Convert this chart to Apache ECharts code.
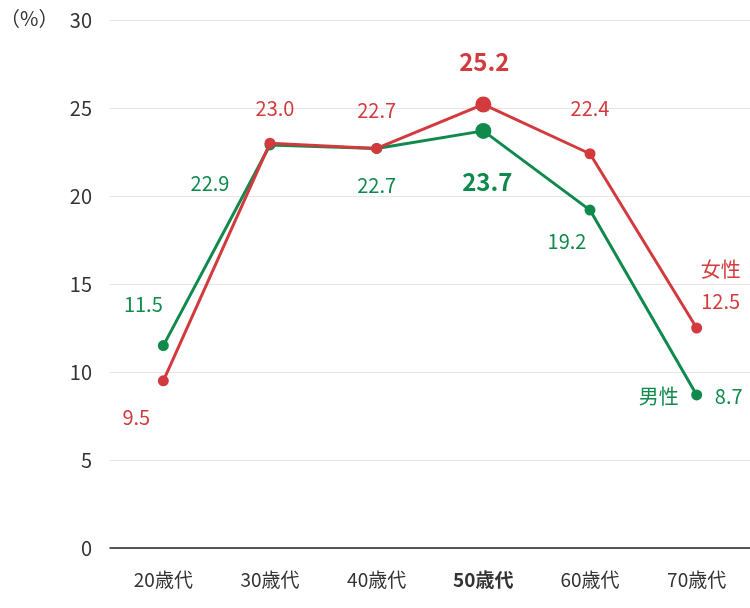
<!DOCTYPE html>
<html>
<head>
<meta charset="utf-8">
<script src="https://cdn.jsdelivr.net/npm/echarts@6/dist/echarts.min.js"></script>
<style>html,body{margin:0;padding:0;background:#fff}#chart{width:750px;height:608px}</style>
</head>
<body>
<div id="chart"></div>
<script>
var categories = ['20歳代', '30歳代', '40歳代', '50歳代', '60歳代', '70歳代'];
var male = [11.5, 22.9, 22.7, 23.7, 19.2, 8.7];
var female = [9.5, 23.0, 22.7, 25.2, 22.4, 12.5];
var yTicks = [0, 5, 10, 15, 20, 25, 30];

var RED = '#d33a3e', GREEN = '#0f8a4c';
var font = '"Noto Sans CJK JP", "Noto Sans", sans-serif';

// label offsets around each point
var femaleOff = [[-27, 37], [5, -35], [0, -38], [1, -43], [0, -45], [24, -43]];
var maleOff = [[-20, -41], [-60, 38], [0, 37], [4, 51], [-23, 31], [-6, 2]];

function build(vals, offs, color, name) {
  return vals.map(function (v, i) {
    var big = i === 3;
    var lab = {
      show: true, position: 'inside', offset: offs[i], color: color,
      fontFamily: font, fontSize: big ? 24 : 20, fontWeight: big ? 'bold' : 'normal'
    };
    if (name === '女性' && i === 5) {
      lab.formatter = '女性\n' + v.toFixed(1);
      lab.lineHeight = 32;
    }
    if (name === '男性' && i === 5) {
      lab.formatter = '{a|男性}{b|' + v.toFixed(1) + '}';
      lab.rich = {
        a: { color: color, fontSize: 20, fontFamily: font, padding: [0, 36, 0, 0] },
        b: { color: color, fontSize: 20, fontFamily: font }
      };
    } else if (!lab.formatter) {
      lab.formatter = v.toFixed(1);
    }
    return { value: v, symbolSize: big ? 16 : 11, label: lab };
  });
}

var chart = echarts.init(document.getElementById('chart'));
chart.setOption({
  animation: false,
  grid: { left: 110, right: 0, top: 20, bottom: 60 },
  graphic: [{ type: 'text', left: 0, top: 8, style: { text: '（%）', fill: '#333', font: '20px ' + font } }],
  xAxis: {
    type: 'category', data: categories, boundaryGap: true,
    axisLine: { lineStyle: { color: '#222', width: 1.5 } },
    axisTick: { show: false },
    axisLabel: {
      interval: 0,
      color: '#333', fontSize: 19, fontFamily: font, margin: 22,
      formatter: function (v) { return v === '50歳代' ? '{b|' + v + '}' : v; },
      rich: { b: { fontWeight: 'bold', fontSize: 19, color: '#333', fontFamily: font } }
    }
  },
  yAxis: {
    type: 'value', min: yTicks[0], max: yTicks[yTicks.length - 1], interval: 5,
    axisLine: { show: false }, axisTick: { show: false },
    axisLabel: { color: '#333', fontSize: 20, fontFamily: font, margin: 18 },
    splitLine: { lineStyle: { color: '#e5e5e5' } }
  },
  series: [
    {
      name: '男性', type: 'line', data: build(male, maleOff, GREEN, '男性'),
      symbol: 'circle', lineStyle: { color: GREEN, width: 3 }, itemStyle: { color: GREEN }, z: 2
    },
    {
      name: '女性', type: 'line', data: build(female, femaleOff, RED, '女性'),
      symbol: 'circle', lineStyle: { color: RED, width: 3 }, itemStyle: { color: RED }, z: 3
    }
  ]
});
</script>
</body>
</html>
